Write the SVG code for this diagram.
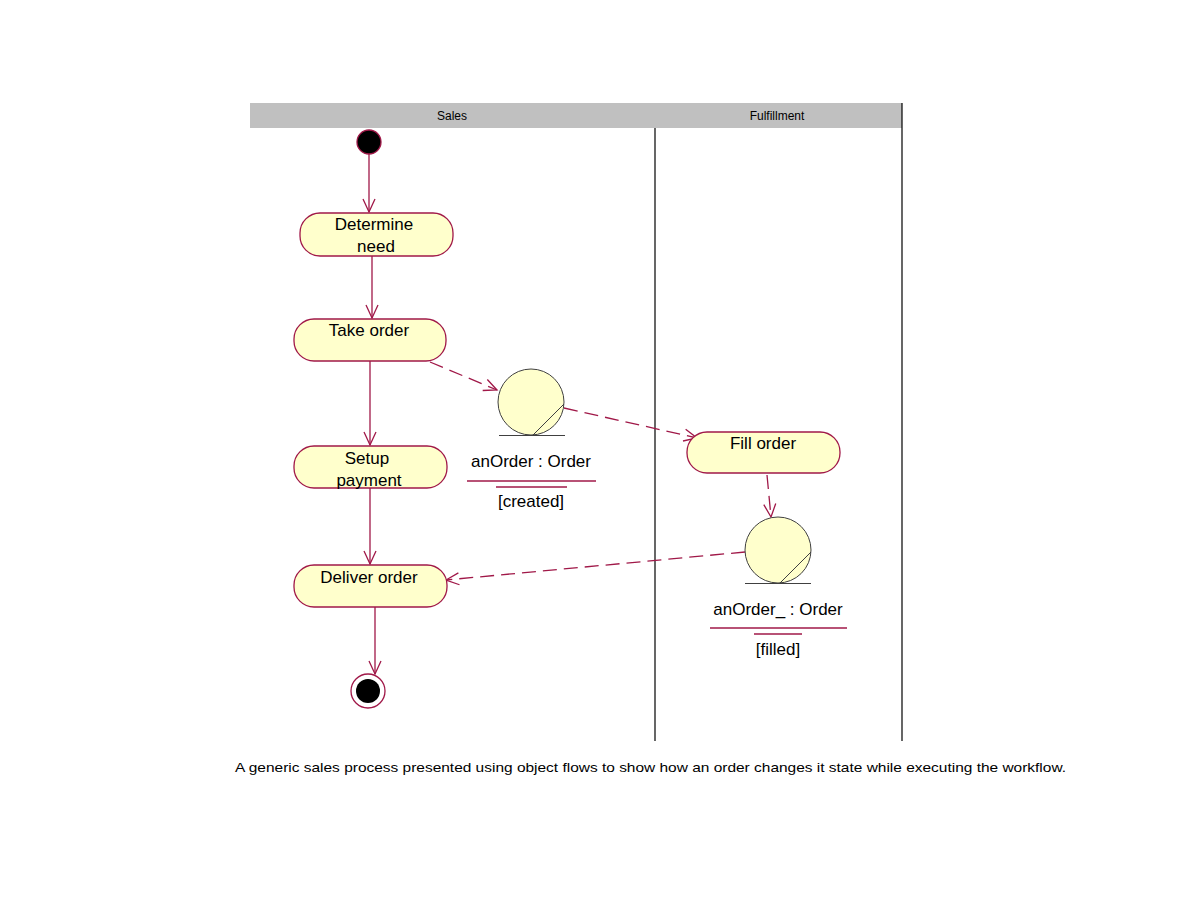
<svg xmlns="http://www.w3.org/2000/svg" width="1188" height="918" viewBox="0 0 1188 918">
<style>
.act{fill:#ffffcc;stroke:#a01848;stroke-width:1.3}
.obj{fill:#ffffcc;stroke:#404040;stroke-width:1}
.ln{stroke:#404040;stroke-width:1;fill:none}
.t{font-family:"Liberation Sans",Arial,sans-serif;font-size:17px;fill:#000;text-anchor:middle}
.h{font-family:"Liberation Sans",Arial,sans-serif;font-size:12px;fill:#000;text-anchor:middle}
.flow{stroke:#a01848;stroke-width:1.3;fill:none}
.dash{stroke-dasharray:14 7}
.ul{stroke:#a01848;stroke-width:1.3}
</style>
<defs>
<marker id="arr" markerUnits="userSpaceOnUse" markerWidth="16" markerHeight="16" viewBox="0 0 16 16" refX="14" refY="8" orient="auto">
<path d="M1,2 L14,8 L1,14" fill="none" stroke="#a01848" stroke-width="1.3"/>
</marker>
</defs>
<rect width="1188" height="918" fill="#fff"/>
<g id="swimlanes">
<rect x="250" y="103" width="652" height="25" fill="#c0c0c0"/>
<text class="h" x="452" y="120">Sales</text>
<text class="h" x="777" y="120">Fulfillment</text>
<line x1="655" y1="128" x2="655" y2="741" stroke="#000" stroke-width="1.2"/>
<line x1="902" y1="103" x2="902" y2="741" stroke="#000" stroke-width="1.2"/>
</g>
<g id="connectors">
<line class="flow" x1="369" y1="154" x2="369" y2="212" marker-end="url(#arr)"/>
<line class="flow" x1="372" y1="256" x2="372" y2="318" marker-end="url(#arr)"/>
<line class="flow" x1="370" y1="361" x2="370" y2="445" marker-end="url(#arr)"/>
<line class="flow" x1="370" y1="488" x2="370" y2="564" marker-end="url(#arr)"/>
<line class="flow" x1="375" y1="607" x2="375" y2="674" marker-end="url(#arr)"/>
<line class="flow dash" x1="430" y1="362" x2="497" y2="390" marker-end="url(#arr)"/>
<line class="flow dash" x1="564" y1="408" x2="697" y2="438" marker-end="url(#arr)"/>
<line class="flow dash" x1="767" y1="475" x2="771" y2="517" marker-end="url(#arr)"/>
<line class="flow dash" x1="745" y1="552" x2="446" y2="580" marker-end="url(#arr)"/>
</g>
<g id="initial">
<circle cx="369" cy="142" r="12" fill="#000" stroke="#a01848" stroke-width="1.3"/>
</g>
<g id="determine-need">
<rect class="act" x="300" y="213" width="153" height="43" rx="20" ry="20"/>
<text class="t" x="374" y="230">Determine</text>
<text class="t" x="376" y="252">need</text>
</g>
<g id="take-order">
<rect class="act" x="294" y="319" width="152" height="42" rx="20" ry="20"/>
<text class="t" x="369" y="336">Take order</text>
</g>
<g id="setup-payment">
<rect class="act" x="294" y="446" width="153" height="42" rx="20" ry="20"/>
<text class="t" x="367" y="464">Setup</text>
<text class="t" x="369" y="486">payment</text>
</g>
<g id="deliver-order">
<rect class="act" x="294" y="565" width="153" height="42" rx="20" ry="20"/>
<text class="t" x="369" y="583">Deliver order</text>
</g>
<g id="final">
<circle cx="368" cy="691" r="17" fill="#fff" stroke="#a01848" stroke-width="1.3"/>
<circle cx="368" cy="691" r="12" fill="#000"/>
</g>
<g id="fill-order">
<rect class="act" x="687" y="432" width="153" height="41" rx="20" ry="20"/>
<text class="t" x="763" y="449">Fill order</text>
</g>
<g id="obj-created">
<circle class="obj" cx="531" cy="402" r="33"/>
<line class="ln" x1="564" y1="404" x2="533" y2="435"/>
<line class="ln" x1="499" y1="435.5" x2="565" y2="435.5"/>
<text class="t" x="531" y="467">anOrder : Order</text>
<line class="ul" x1="467" y1="481" x2="596" y2="481"/>
<line class="ul" x1="496" y1="487" x2="567" y2="487"/>
<text class="t" x="531" y="507">[created]</text>
</g>
<g id="obj-filled">
<circle class="obj" cx="778" cy="550" r="33"/>
<line class="ln" x1="811" y1="552" x2="780" y2="583"/>
<line class="ln" x1="745" y1="583.5" x2="811" y2="583.5"/>
<text class="t" x="778" y="615">anOrder_ : Order</text>
<line class="ul" x1="710" y1="628" x2="847" y2="628"/>
<line class="ul" x1="754" y1="634" x2="802" y2="634"/>
<text class="t" x="778" y="655">[filled]</text>
</g>
<text x="235" y="772" font-family="'Liberation Sans',Arial,sans-serif" font-size="13.5" textLength="831" lengthAdjust="spacingAndGlyphs">A generic sales process presented using object flows to show how an order changes it state while executing the workflow.</text>
</svg>
